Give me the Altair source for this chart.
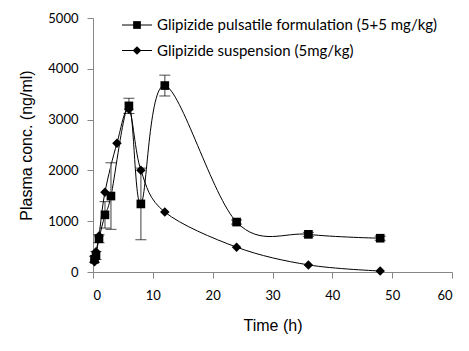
import altair as alt
import pandas as pd

# --- data ---
S1 = "Glipizide pulsatile formulation (5+5 mg/kg)"
S2 = "Glipizide suspension (5mg/kg)"

t_puls = [0.25, 0.5, 1, 2, 3, 6, 8, 12, 24, 36, 48]
c_puls = [250, 325, 655, 1125, 1495, 3270, 1340, 3670, 983, 741, 665]
e_puls = [60, 80, 80, 260, 655, 150, 705, 205, 40, 40, 40]

t_susp = [0.25, 0.5, 1, 2, 4, 6, 8, 12, 24, 36, 48]
c_susp = [200, 400, 710, 1572, 2535, 3205, 2005, 1180, 489, 140, 20]

x_ticks = [0, 10, 20, 30, 40, 50, 60]
y_ticks = [0, 500, 1000, 1500, 2000, 2500, 3000, 3500, 4000, 4500, 5000]

puls = pd.DataFrame({"t": t_puls, "c": c_puls, "e": e_puls, "s": S1})
puls["lo"] = puls["c"] - puls["e"]
puls["hi"] = puls["c"] + puls["e"]
susp = pd.DataFrame({"t": t_susp, "c": c_susp, "s": S2})
legend_df = pd.DataFrame({"s": [S1, S2]})

FONT = "Lato"
TFONT = "Liberation Sans"
AX = "#868686"

xs = alt.Scale(domain=[0, 60], nice=False, padding=0, zero=False)
ys = alt.Scale(domain=[0, 5000], nice=False, padding=0, zero=False)

x = alt.X("t:Q", title="Time (h)", scale=xs,
          axis=alt.Axis(values=x_ticks, grid=False, titlePadding=15, format="d"))
y = alt.Y("c:Q", title="Plasma conc. (ng/ml)", scale=ys,
          axis=alt.Axis(values=y_ticks, grid=False, titlePadding=13, format="d"))

line_p = alt.Chart(puls).mark_line(interpolate="cardinal", color="black",
                                   strokeWidth=1).encode(x=x, y=y)
line_s = alt.Chart(susp).mark_line(interpolate="cardinal", color="black",
                                   strokeWidth=1).encode(x=x, y=y)

err = alt.Chart(puls).mark_rule(color="#7f7f7f", strokeWidth=1.5).encode(
    x=alt.X("t:Q", scale=xs), y=alt.Y("lo:Q", scale=ys), y2="hi:Q")
cap_hi = alt.Chart(puls).mark_tick(color="black", size=11, thickness=1,
                                   orient="horizontal").encode(
    x=alt.X("t:Q", scale=xs), y=alt.Y("hi:Q", scale=ys))
cap_lo = alt.Chart(puls).mark_tick(color="black", size=11, thickness=1,
                                   orient="horizontal").encode(
    x=alt.X("t:Q", scale=xs), y=alt.Y("lo:Q", scale=ys))

pts_p = alt.Chart(puls).mark_point(shape="square", filled=True, color="black",
                                   opacity=1, size=75).encode(x=x, y=y)
pts_s = alt.Chart(susp).mark_point(shape="diamond", filled=True, color="black",
                                   opacity=1, size=90).encode(x=x, y=y)

# manual legend (line + marker + label)
def leg_row(i, shape, size):
    row = alt.Chart(legend_df).transform_filter(alt.datum.s == legend_df["s"][i])
    ypix = 7 + 25.5 * i
    seg = row.mark_rule(color="black", strokeWidth=1).encode(
        x=alt.value(29), x2=alt.value(59), y=alt.value(ypix))
    mk = row.mark_point(shape=shape, filled=True, color="black", opacity=1,
                        size=size).encode(x=alt.value(44), y=alt.value(ypix))
    tx = row.mark_text(align="left", baseline="middle", font=FONT, fontSize=15,
                       color="black").encode(x=alt.value(64), y=alt.value(ypix),
                                             text="s:N")
    return [seg, mk, tx]

legend_layers = leg_row(0, "square", 60) + leg_row(1, "diamond", 75)

chart = alt.layer(line_p, line_s, err, cap_hi, cap_lo, pts_p, pts_s,
                  *legend_layers).properties(
    width=359, height=254,
    autosize=alt.AutoSizeParams(type="none"),
    padding={"left": 93, "top": 18, "right": 17, "bottom": 79},
    background="white",
).configure_view(stroke=None).configure_axis(
    domainColor=AX, tickColor=AX, tickSize=6, domainWidth=1, tickWidth=1,
    labelFont=FONT, labelFontSize=13, labelColor="black",
    titleFont=TFONT, titleFontSize=16, titleFontWeight="normal", titleColor="black",
).configure_axisX(labelPadding=11).configure_axisY(labelPadding=9)

chart.save("out.html", embed_options={"renderer": "svg", "actions": False})
